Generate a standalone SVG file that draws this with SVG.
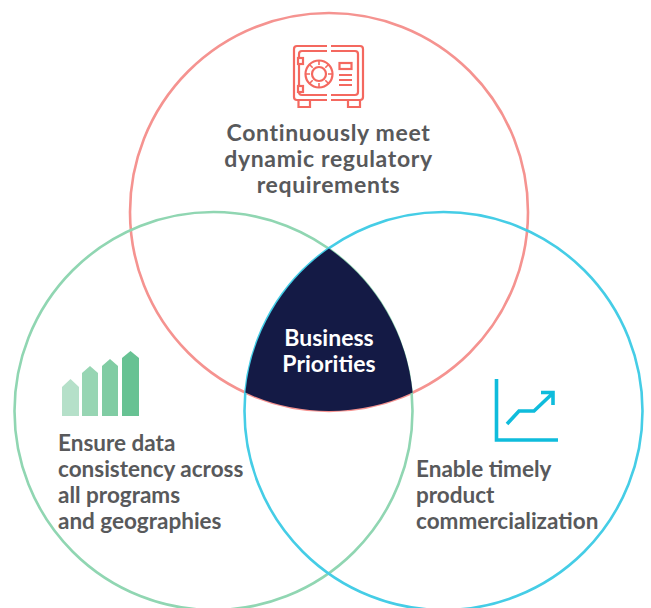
<svg xmlns="http://www.w3.org/2000/svg" width="651" height="608" viewBox="0 0 651 608">
<style>
.c{fill:none;stroke-width:2.6}
.t{font-family:"Lato","Liberation Sans",sans-serif;font-weight:700;font-size:22.5px;fill:#58595b}
.h{font-size:23px;letter-spacing:.65px;text-anchor:middle}
.w{font-family:"Lato","Liberation Sans",sans-serif;font-weight:700;font-size:23px;fill:#fff;text-anchor:middle}
.s{fill:none;stroke:#f4685f;stroke-width:2.2}
.l{fill:none;stroke:#0fbcdc;stroke-width:3.6}
</style>
<rect width="651" height="608" fill="#fff"/>
<g id="connectors"></g>
<g id="circle-top"><circle class="c" cx="329" cy="212" r="199" stroke="#f59390"/></g>
<g id="circle-left"><circle class="c" cx="213.5" cy="411" r="199" stroke="#90d6b2"/></g>
<g id="circle-right"><circle class="c" cx="443.5" cy="411" r="199" stroke="#45cde6"/></g>
<g id="center">
<path d="M329 248.500A199 199 0 0 0 245.400 392.600A199 199 0 0 0 412.600 392.600A199 199 0 0 0 329 248.500Z" fill="#141a45"/>
<text class="w" x="329" y="346">Business</text>
<text class="w" x="329" y="372">Priorities</text>
</g>
<g id="node-regulatory">
<path class="s" d="M327 46H297Q294 46 294 49V97Q294 100 297 100H327M331 100H360Q363 100 363 97V49Q363 46 360 46H331"/>
<path class="s" d="M327 51H302Q299 51 299 54V92Q299 95 302 95H327M331 95H355Q358 95 358 92V54Q358 51 355 51H331"/>
<rect class="s" x="298" y="58" width="5" height="6" style="fill:#fff"/>
<rect class="s" x="298" y="86" width="5" height="6" style="fill:#fff"/>
<circle class="s" cx="319" cy="74" r="13.500"/>
<circle class="s" cx="319" cy="74" r="7"/>
<path class="s" style="stroke-width:1.6" d="M319 60.500V65M319 83V87.500M305.500 74H310M328 74H332.500M309.500 64.500L312.700 67.700M325.300 80.300L328.500 83.500M309.500 83.500L312.700 80.300M325.300 67.700L328.500 64.500"/>
<rect class="s" x="339.500" y="63" width="12" height="6"/>
<path class="s" d="M339 75H352M339 80H352M339 85H352"/>
<path class="s" d="M298.500 100V107H310V100M348 100V107H360V100"/>
<text class="t h" x="328.500" y="141">Continuously meet</text>
<text class="t h" x="328.500" y="167">dynamic regulatory</text>
<text class="t h" x="328.500" y="193">requirements</text>
</g>
<g id="node-data">
<path d="M62 387L70.500 379L79 387V416H62Z" fill="#b5e0c9"/>
<path d="M82 373L90 366L98 373V416H82Z" fill="#97d5b3"/>
<path d="M102 366L110 359L118 366V416H102Z" fill="#80cca3"/>
<path d="M122 358L130.500 351L139 358V416H122Z" fill="#67c293"/>
<text class="t" x="58" y="451">Ensure data</text>
<text class="t" x="58" y="477">consistency across</text>
<text class="t" x="58" y="503">all programs</text>
<text class="t" x="58" y="529">and geographies</text>
</g>
<g id="node-commercial">
<path class="l" d="M496.500 379V440H558"/>
<path class="l" d="M507 424L519 411H534L553 393M541 392.500H553V405"/>
<text class="t" x="416" y="477">Enable timely</text>
<text class="t" x="416" y="503">product</text>
<text class="t" x="416" y="529">commercialization</text>
</g>
</svg>
